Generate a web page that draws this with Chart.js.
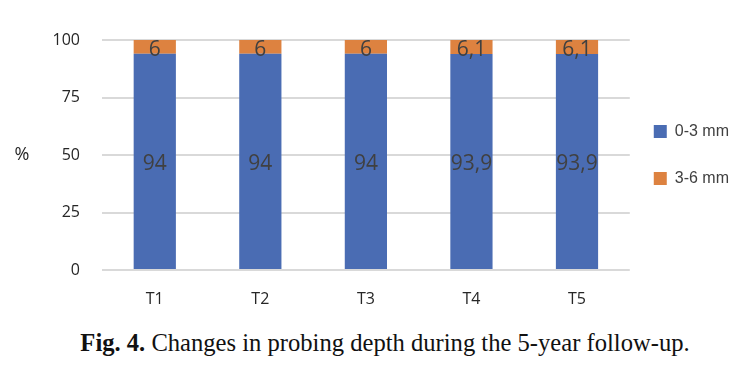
<!DOCTYPE html>
<html>
<head>
<meta charset="utf-8">
<script src="https://cdn.jsdelivr.net/npm/chart.js@4/dist/chart.umd.min.js"></script>
<style>
  html, body { margin: 0; padding: 0; background: #fff; }
  #wrap { width: 746px; height: 320px; position: relative; }
  #caption { width: 746px; text-align: center; font-family: "Liberation Serif", "Times New Roman", serif; font-size: 24.6px; color: #111; margin-top: 9px; padding-left: 24px; box-sizing: border-box; }
</style>
</head>
<body>
<div id="wrap"><canvas id="c" width="746" height="320"></canvas></div>
<div id="caption"><b>Fig. 4.</b> Changes in probing depth during the 5-year follow-up.</div>
<script>
const categories = ["T1", "T2", "T3", "T4", "T5"];
const shallow = [94, 94, 94, 93.9, 93.9];
const moderate = [6, 6, 6, 6.1, 6.1];
const yTicks = [0, 25, 50, 75, 100];
const seriesNames = ["0-3 mm", "3-6 mm"];

const fmt = v => String(v).replace('.', ',');

const labelPlugin = {
  id: 'segLabels',
  afterLayout(chart) {
    // nudge the legend slightly toward the plot, as in the reference
    if (chart.legend) { chart.legend.left -= 7; chart.legend.right -= 7; }
  },
  afterDatasetsDraw(chart) {
    const ctx = chart.ctx;
    ctx.save();
    ctx.font = '21px "Open Sans", "Liberation Sans", sans-serif';
    ctx.fillStyle = '#404040';
    ctx.textAlign = 'center';
    ctx.textBaseline = 'middle';
    chart.data.datasets.forEach((ds, di) => {
      const meta = chart.getDatasetMeta(di);
      meta.data.forEach((el, i) => {
        const p = el.getProps(['x', 'y', 'base'], true);
        ctx.fillText(fmt(ds.data[i]), p.x, (p.y + p.base) / 2 + 3);
      });
    });
    const ys = chart.scales.y;
    ctx.font = '18px "Open Sans", "Liberation Sans", sans-serif';
    ctx.fillStyle = '#262626';
    ctx.fillText('%', 22, (ys.top + ys.bottom) / 2);
    ctx.restore();
  }
};

new Chart(document.getElementById('c'), {
  type: 'bar',
  data: {
    labels: categories,
    datasets: [
      { label: seriesNames[0], data: shallow, backgroundColor: '#4a6cb3', borderWidth: 0 },
      { label: seriesNames[1], data: moderate, backgroundColor: '#dd8240', borderWidth: 0 }
    ]
  },
  options: {
    responsive: false,
    animation: false,
    layout: { padding: { top: 40, right: 0, left: 0, bottom: 0 } },
    datasets: { bar: { categoryPercentage: 1, barPercentage: 0.4 } },
    plugins: {
      tooltip: { enabled: false },
      legend: {
        position: 'right',
        align: 'center',
        fullSize: false,
        labels: {
          boxWidth: 13, boxHeight: 13, padding: 31,
          color: '#404040',
          font: { family: '"Liberation Sans", Arial, sans-serif', size: 16 }
        }
      }
    },
    scales: {
      x: {
        stacked: true,
        grid: { display: false, drawTicks: false },
        border: { display: false },
        ticks: { color: '#262626', padding: 20, font: { family: '"Open Sans", "Liberation Sans", sans-serif', size: 16 } },
        afterFit(s) { s.height = 50; }
      },
      y: {
        stacked: true,
        min: 0, max: 100,
        afterBuildTicks(s) { s.ticks = yTicks.map(v => ({ value: v })); },
        grid: { color: '#d9d9d9', lineWidth: 2, drawTicks: false },
        border: { display: false },
        ticks: { color: '#262626', padding: 22, font: { family: '"Open Sans", "Liberation Sans", sans-serif', size: 16 } },
        afterFit(s) { s.width = 102; }
      }
    }
  },
  plugins: [labelPlugin]
});
</script>
</body>
</html>
